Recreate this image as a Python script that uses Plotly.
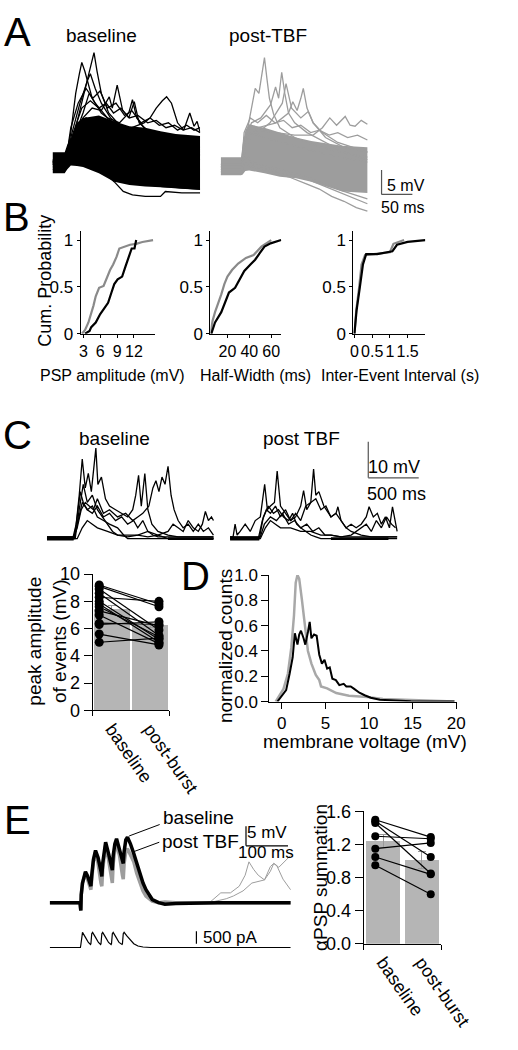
import plotly.graph_objects as go

W, H = 518, 1050
FONT = "Liberation Sans, Arial, sans-serif"
GRAY_A = "#9d9d9d"
GRAY_B = "#8a8a8a"
GRAY_D = "#a8a8a8"
BAR = "#b5b5b5"

# ---------------- DATA ----------------
# Panel A (time ms, voltage mV) -- baseline (black)
A_base_env_t = [0, 20, 24, 30, 40, 50, 76, 101, 126, 152, 177, 202, 242]
A_base_env_hi = [2.0, 2.0, 3.5, 4.7, 8.0, 9.0, 9.5, 8.3, 7.3, 7.0, 6.3, 5.7, 5.3]
A_base_env_lo = [-2.3, -2.3, -1.5, -0.7, -0.8, -1.0, -2.3, -4.0, -4.7, -5.0, -5.2, -5.3, -5.7]
A_base_traces = [
    ([0, 22, 30, 40, 50, 58, 64, 68, 73, 80, 92, 110, 140, 175, 210, 242],
     [0, 0.5, 3, 8, 13, 17, 20, 22.3, 18.5, 14, 10, 7.5, 5, 3.5, 2, 1.3]),
    ([0, 22, 30, 38, 44, 48, 53, 58, 65, 80, 100, 130, 170, 210, 242],
     [0.3, 0.6, 6, 14, 18, 20.3, 18.5, 16, 13, 10, 8, 6, 4, 2.5, 1.5]),
    ([0, 22, 35, 50, 65, 80, 93, 98, 106, 115, 125, 134, 142, 160, 190, 220, 242],
     [0, 0, 5, 9, 11, 10.5, 13.3, 11, 15.7, 10.5, 9, 12.3, 8, 6, 4, 3, 2]),
    ([0, 22, 40, 70, 100, 130, 150, 160, 170, 180, 187, 195, 205, 215, 225, 232, 237, 242],
     [-0.5, 0, 4, 6, 6.5, 7, 8, 9, 11, 12.5, 13.3, 12, 8, 6.5, 10, 7.3, 8.3, 6]),
    ([0, 22, 32, 45, 57, 62, 70, 80, 95, 115, 140, 170, 200, 242],
     [0, 0.5, 6, 12, 16.5, 18, 15, 12, 9, 7, 5, 3, 2, 0.5]),
    ([0, 22, 35, 50, 60, 70, 90, 110, 125, 131, 138, 150, 170, 200, 242],
     [-0.3, 0.2, 5, 10, 14, 12, 9, 8, 10, 12.7, 9, 7, 5.5, 4, 3]),
    ([0, 22, 30, 42, 55, 66, 78, 90, 104, 118, 130, 145, 160, 175, 190, 205, 220, 232, 242],
     [0, 0.3, 7, 12, 15, 13, 14.5, 11, 12, 9.5, 10.5, 8, 9, 7.5, 8, 6.5, 7.5, 6.5, 7]),
    ([0, 22, 34, 48, 62, 76, 88, 100, 112, 126, 140, 156, 170, 186, 200, 214, 228, 242],
     [0.2, 0.5, 6, 11, 12.5, 11, 12, 10, 11, 9, 9.5, 8, 8.5, 7, 7.5, 6.5, 7, 6]),
    ([0, 22, 28, 40, 60, 80, 101, 116, 131, 152, 177, 185, 212, 242],
     [-1, -1, 1, 0.5, -0.5, -1.5, -4, -6, -6.7, -7, -7, -6, -6.3, -6.3]),
    ([0, 22, 28, 40, 60, 80, 100, 120, 150, 180, 210, 242],
     [-1.5, -1.5, 0.5, 0, -1, -2, -3, -4, -4.5, -5, -5.3, -5.5]),
    ([0, 22, 30, 40, 55, 70, 90, 110, 140, 170, 200, 242],
     [0.5, 0.8, 4, 7, 9, 8, 7, 6, 5, 4, 3, 2.5]),
    ([0, 22, 30, 45, 60, 80, 100, 130, 160, 190, 220, 242],
     [-0.5, 0, 3, 5, 4.5, 3.5, 2.5, 1.5, 0.5, 0, -1, -1.5]),
]
# Panel A -- post-TBF (gray)
A_post_env_t = [0, 33, 36, 40, 46, 71, 96, 122, 147, 172, 197, 238]
A_post_env_hi = [1.0, 1.0, 4.0, 6.5, 7.7, 7.0, 6.0, 5.0, 4.3, 3.8, 3.3, 3.0]
A_post_env_lo = [-2.7, -2.7, -2.5, -1.8, -1.7, -2.3, -3.0, -3.3, -4.0, -5.0, -6.0, -6.3]
A_post_traces = [
    ([0, 34, 38, 45, 56, 62, 66, 71, 75, 79, 86, 96, 120, 150, 180, 210, 238],
     [-1, -1, 3, 8, 15, 14, 17, 21.3, 17, 13, 9.7, 7, 5, 3.5, 2.5, 1.5, 1]),
    ([0, 34, 38, 50, 65, 81, 89, 94, 99, 104, 110, 120, 140, 170, 200, 238],
     [-1.5, -1.5, 4, 8, 9, 11.7, 15.3, 13, 18.3, 14, 10, 8, 6, 4, 2, 0.5]),
    ([0, 34, 38, 60, 90, 110, 117, 124, 130, 134, 140, 150, 170, 200, 238],
     [-0.5, -0.5, 4, 7, 8, 10, 12.3, 10.5, 13, 15, 11, 8, 5, 3, 2]),
    ([0, 34, 38, 60, 80, 100, 106, 115, 130, 142, 150, 165, 190, 215, 238],
     [-1, -1, 3, 6, 8, 12, 16, 11, 9, 10.3, 8, 6, 4, 3, 2]),
    ([0, 34, 38, 60, 90, 120, 150, 165, 177, 188, 202, 210, 218, 228, 238],
     [-1, -1, 5, 6.5, 6, 5.5, 5.5, 7, 9, 7.5, 9.3, 7.5, 7.3, 8.5, 7.7]),
    ([0, 34, 38, 48, 60, 74, 88, 102, 116, 130, 146, 160, 176, 190, 206, 222, 238],
     [-0.5, -0.5, 6, 9, 8, 9.5, 8, 8.5, 7, 7.5, 6, 6.5, 5.5, 6, 5, 5.5, 4.5]),
    ([0, 34, 38, 50, 70, 100, 130, 160, 190, 238],
     [-2, -2, 4, 6, 5, 4, 3, 2, 1, 0]),
    ([0, 34, 38, 50, 80, 110, 140, 170, 200, 238],
     [-2.5, -2.5, 0, -1, -1.5, -2.5, -3.5, -5, -6.5, -8.5]),
    ([0, 34, 38, 50, 80, 110, 140, 160, 180, 200, 220, 238],
     [-2, -2, 1, -0.5, -2, -3, -4.5, -5.5, -7, -8, -9.3, -10]),
    ([0, 34, 38, 50, 80, 110, 140, 170, 200, 238],
     [-1.5, -1.5, 2, 0, -1, -2, -3, -4.5, -6, -7.5]),
]
A_SCALE_MV, A_SCALE_MS = 5, 50

# Panel B cumulative distributions
B_amp_base_x = [3.3, 4.1, 4.4, 5.2, 6.0, 6.9, 7.4, 8.0, 8.5, 9.1, 9.9, 10.5, 11.0, 11.6, 12.1, 12.4]
B_amp_base_p = [0.0, 0.03, 0.07, 0.12, 0.21, 0.28, 0.33, 0.44, 0.53, 0.58, 0.61, 0.72, 0.81, 0.91, 0.91, 1.0]
B_amp_post_x = [2.75, 3.3, 3.9, 4.4, 4.8, 5.2, 5.8, 6.6, 7.2, 7.75, 8.3, 8.9, 9.4, 10.2, 11.3, 12.4, 13.5, 15.4]
B_amp_post_p = [0.0, 0.04, 0.12, 0.21, 0.30, 0.40, 0.49, 0.51, 0.60, 0.68, 0.74, 0.82, 0.91, 0.93, 0.95, 0.96, 0.98, 1.0]
B_hw_base_x = [5.3, 8.7, 14.4, 18.6, 21.4, 27, 31.2, 35.4, 41, 45.3, 49.5, 53.8, 59.4, 65, 69]
B_hw_base_p = [0.0, 0.12, 0.23, 0.35, 0.44, 0.49, 0.58, 0.67, 0.74, 0.79, 0.86, 0.93, 0.965, 0.99, 1.0]
B_hw_post_x = [4.5, 6.5, 8.7, 11.5, 14.4, 17.2, 20, 24.2, 29.8, 36.9, 43.9, 51, 56.6, 60]
B_hw_post_p = [0.0, 0.14, 0.23, 0.32, 0.42, 0.53, 0.61, 0.68, 0.75, 0.81, 0.84, 0.93, 0.975, 1.0]
B_iei_base_x = [0.0, 0.06, 0.15, 0.24, 0.33, 0.64, 1.07, 1.2, 1.5, 2.0]
B_iei_base_p = [0.0, 0.25, 0.49, 0.74, 0.85, 0.85, 0.88, 0.95, 0.98, 1.0]
B_iei_post_x = [0.0, 0.05, 0.13, 0.2, 0.3, 1.0, 1.1, 1.25, 1.4]
B_iei_post_p = [0.0, 0.25, 0.49, 0.74, 0.84, 0.87, 0.96, 0.98, 1.0]

# Panel C traces (time ms, voltage mV)
C_base_rest = [([0, 265], [-0.5, -0.5], [0.6, 0.6]), ([1200, 1650], [-0.4, -0.4], [0.4, 0.4])]
C_post_rest = [([0, 290], [-0.5, -0.5], [0.6, 0.6]), ([1000, 1570], [-0.4, -0.4], [0.4, 0.4])]
C_base_traces = [
    ([0, 260, 290, 320, 350, 380, 410, 440, 470, 485, 505, 540, 580, 620, 680, 740, 800, 850, 880, 908, 935, 970, 1000, 1040, 1100, 1200, 1300, 1400, 1500, 1650],
     [0.5, 0.5, 4, 12, 22, 14, 18, 13, 21, 25, 15, 17, 11, 9, 8, 7, 6, 8, 12, 17.5, 9, 18, 8, 4, 2, 1, 0.5, 0.5, 0.5, 0.5]),
    ([0, 260, 300, 340, 380, 420, 460, 500, 560, 620, 700, 780, 850, 900, 950, 1010, 1050, 1080, 1110, 1140, 1170, 1200, 1230, 1260, 1300, 1350, 1400, 1450, 1500, 1550, 1600, 1650],
     [0, 0, 3, 8, 10, 9, 8, 11, 7, 8, 6, 7, 5, 6, 7, 9, 14, 16, 13, 17, 15, 20, 12, 8, 5, 3, 4, 2, 4, 2, 3, 1]),
    ([0, 270, 300, 330, 360, 400, 450, 500, 560, 620, 700, 760, 800, 850, 900, 1000, 1100, 1200, 1300, 1650],
     [0, 0, 6, 13, 10, 8, 9, 6, 5, 4, 3, 1, 0, 0, 0, 0, 0, 0, 0, 0]),
    ([0, 270, 310, 350, 400, 450, 500, 560, 620, 680, 740, 800, 860, 900, 950, 1000, 1050, 1100, 1200, 1650],
     [0.5, 0.5, 5, 10, 8, 7, 9, 6, 7, 5, 6, 4, 5, 3, 5, 2, 1, 0.5, 0.5, 0.5]),
    ([0, 300, 350, 400, 450, 500, 600, 700, 800, 900, 1000, 1100, 1200, 1250, 1300, 1350, 1400, 1450, 1500, 1540, 1570, 1600, 1630, 1650],
     [0, 0, 3, 5, 4, 3, 2, 1, 1, 1, 0.5, 1, 2, 4, 3, 2, 5, 3, 2, 4, 7.5, 5, 6, 5]),
    ([0, 280, 320, 360, 400, 450, 500, 550, 600, 650, 700, 800, 900, 1000, 1100, 1200, 1650],
     [0, 0, 8, 15, 10, 12, 8, 6, 4, 2, 1, 0.5, 1, 2, 1, 0, 0]),
]
C_post_traces = [
    ([0, 30, 50, 70, 100, 150, 200, 250, 300, 343, 370, 400, 440, 467, 500, 550, 600, 650, 700, 729, 760, 800, 828, 850, 880, 930, 1000, 1050, 1069, 1100, 1150, 1200, 1300, 1400, 1500, 1656],
     [0.5, 0.5, 4, 1, 2, 4, 2, 5, 6, 15, 8, 9, 10, 18.7, 9, 7, 5, 6, 9, 13.3, 8, 10, 19.2, 12, 13, 9, 6, 7, 8.8, 5, 3, 2, 1, 0.5, 0.5, 0.5]),
    ([0, 280, 320, 360, 400, 450, 500, 550, 600, 650, 700, 750, 800, 850, 900, 950, 1000, 1050, 1100, 1150, 1200, 1250, 1300, 1350, 1378, 1420, 1460, 1500, 1540, 1580, 1610, 1656],
     [0, 0, 5, 8, 7, 9, 6, 8, 5, 7, 5, 9, 10, 11, 8, 9, 6, 7, 5, 3, 4, 3, 4, 6, 8.8, 6, 7, 4, 6, 3, 8.8, 2]),
    ([0, 290, 330, 380, 430, 480, 530, 580, 620, 660, 700, 750, 800, 850, 900, 1000, 1656],
     [0, 0, 6, 9, 7, 8, 6, 5, 7, 4, 3, 2, 1, 0.5, 0, 0, 0]),
    ([0, 300, 340, 400, 460, 520, 580, 640, 700, 760, 820, 880, 940, 1000, 1100, 1200, 1300, 1656],
     [0.5, 0.5, 4, 6, 5, 7, 4, 5, 3, 4, 2, 3, 1, 1, 0.5, 0.5, 0.5, 0.5]),
    ([0, 300, 350, 400, 450, 500, 600, 700, 800, 900, 1000, 1100, 1200, 1300, 1350, 1400, 1450, 1500, 1550, 1600, 1640],
     [0, 0, 3, 5, 4, 3, 3, 2, 2, 1, 1, 0.5, 1, 3, 4, 2, 5, 3, 6, 4, 3]),
]
C_SCALE_MV, C_SCALE_MS = 10, 500

# Panel C bar chart
C_categories = ["baseline", "post-burst"]
C_bar_means = [7.4, 6.25]
C_bar_err = [0.3, 0.2]
C_pair_base = [9.2, 9.1, 8.9, 8.6, 8.3, 8.0, 7.8, 7.6, 7.3, 7.0, 6.4, 6.3, 5.6, 5.0]
C_pair_post = [7.8, 7.6, 5.9, 5.5, 8.0, 5.2, 5.0, 5.4, 6.2, 4.9, 6.3, 6.5, 4.8, 5.3]

# Panel D histogram
D_post_x = [-0.7, 0.2, 0.7, 1.1, 1.4, 1.6, 1.8, 2.0, 2.3, 2.7, 3.0, 3.4, 3.9, 4.3, 4.5, 5.2, 6.25, 7.7, 9.8, 11.6, 13.4, 15.9, 19.8]
D_post_y = [0.0, 0.10, 0.22, 0.43, 0.68, 0.94, 1.0, 0.97, 0.81, 0.56, 0.40, 0.30, 0.21, 0.17, 0.12, 0.105, 0.067, 0.046, 0.036, 0.02, 0.015, 0.01, 0.0]
D_base_x = [-0.5, 0.2, 0.5, 0.9, 1.25, 1.5, 1.8, 2.0, 2.2, 2.5, 2.7, 3.0, 3.2, 3.4, 3.7, 4.0, 4.3, 4.6, 4.9, 5.2, 5.5, 5.8, 6.2, 6.6, 7.1, 7.4, 7.9, 8.3, 8.9, 9.5, 10.2, 11.25, 12.7, 14.8, 19.8]
D_base_y = [0.0, 0.07, 0.09, 0.22, 0.35, 0.54, 0.45, 0.53, 0.56, 0.50, 0.45, 0.55, 0.63, 0.50, 0.53, 0.52, 0.37, 0.30, 0.33, 0.26, 0.27, 0.18, 0.17, 0.13, 0.14, 0.12, 0.12, 0.10, 0.07, 0.05, 0.03, 0.015, 0.01, 0.003, 0.0]

# Panel E traces (time ms, voltage mV / current pA)
E_t = [0, 72, 74, 75, 78, 82, 85, 90, 96, 98, 100, 104, 109, 115, 122, 124, 126, 130, 133, 140,
       147, 149, 151, 155, 159, 166, 173, 175, 177, 181, 185, 192, 200, 207, 215, 222, 229, 236, 244, 259,
       274, 300, 350, 400, 450, 500, 550, 573]
E_base_v = [0, 0, -2, 2, 5, 7, 7.9, 6.8, 5, 4.2, 7, 11, 13.3, 11.5, 8, 6.7, 10, 14, 15.4, 12.5,
            9, 8.3, 12, 15, 16.3, 13.5, 10.5, 10, 13, 16, 16.7, 15, 12.5, 10, 7.5, 5, 3.3, 2, 0.8, 0,
            -0.4, -0.2, 0, 0, 0, 0, 0, 0]
E_post_v = [0, 0, -2, 2, 5, 7, 7.5, 6, 3.8, 3.3, 6, 10.5, 12.9, 10, 5, 4.2, 8.5, 13, 14.6, 11,
            6, 5, 10, 13.5, 15, 12, 7, 6, 10, 13, 13.75, 12, 10.4, 7.5, 5, 3, 1.7, 1, 0.4, 0,
            0.2, 0, 0, 0, 0, 0, 0, 0]
E_spont1_t = [380, 407, 430, 451, 465, 474, 485, 496, 511, 525, 533, 540, 555, 573]
E_spont1_v = [0, 2.5, 2.5, 4.2, 7, 10.4, 8.5, 7, 5.8, 8, 10, 9.5, 6, 3.3]
E_spont2_t = [380, 420, 437, 460, 481, 500, 511, 525, 533, 545, 555, 565, 573]
E_spont2_v = [0, 1, 1.7, 3, 5, 5.5, 5.8, 9.2, 10, 9, 10, 11, 12]
E_I_t = [0, 73, 74, 76, 78, 85, 92, 97, 98, 100, 102, 109, 116, 121, 122, 124, 126, 133, 140, 146,
         147, 149, 151, 158, 165, 172, 173, 175, 177, 184, 192, 200, 210, 222, 240, 300, 400, 500, 573]
E_I_pA = [0, 0, 100, 550, 600, 400, 200, 120, 150, 550, 600, 400, 200, 120, 150, 550, 600, 400, 200, 120,
          150, 550, 600, 400, 200, 120, 150, 550, 600, 450, 300, 150, 60, 20, 0, 0, 0, 0, 0]
E_SCALE_MV, E_SCALE_MS, E_SCALE_PA = 5, 100, 500

# Panel E bar chart
E_categories = ["baseline", "post-burst"]
E_bar_means = [1.24, 1.01]
E_bar_err = [0.08, 0.1]
E_pair_base = [1.50, 1.48, 1.46, 1.30, 1.15, 1.05, 0.95]
E_pair_post = [1.29, 1.05, 0.85, 1.27, 1.22, 0.84, 0.60]

# ---------------- LAYOUT HELPERS ----------------
def X(px):
    return px / W


def Y(py):
    return 1 - py / H


def xd(a, b):
    return [X(a), X(b)]


def yd(top, bottom):
    return [Y(bottom), Y(top)]


HID = dict(visible=False, showgrid=False, zeroline=False, fixedrange=True)


def vis(size=18, ticklen=6, **kw):
    d = dict(showline=True, linecolor="black", linewidth=1, ticks="outside",
             ticklen=ticklen, tickwidth=1, tickcolor="black", showgrid=False,
             zeroline=False, fixedrange=True, tickangle=0,
             tickfont=dict(size=size, color="black", family=FONT))
    d.update(kw)
    return d


fig = go.Figure()


def add(trace, n):
    trace.update(xaxis="x" if n == 1 else f"x{n}", yaxis="y" if n == 1 else f"y{n}",
                 showlegend=False, hoverinfo="skip")
    fig.add_trace(trace)


def band(t, lo, hi, color, n):
    add(go.Scatter(x=list(t) + list(t)[::-1], y=list(hi) + list(lo)[::-1], fill="toself",
                   fillcolor=color, mode="lines", line=dict(width=0)), n)


# ---- Panel A ----
band(A_base_env_t, A_base_env_lo, A_base_env_hi, "black", 1)
for t, v in A_base_traces:
    add(go.Scatter(x=t, y=v, mode="lines", line=dict(color="black", width=1.3)), 1)
band(A_post_env_t, A_post_env_lo, A_post_env_hi, GRAY_A, 2)
for t, v in A_post_traces:
    add(go.Scatter(x=t, y=v, mode="lines", line=dict(color=GRAY_A, width=1.3)), 2)

# ---- Panel B ----
for n, (bx, bp, px_, pp) in zip([3, 4, 5], [
        (B_amp_base_x, B_amp_base_p, B_amp_post_x, B_amp_post_p),
        (B_hw_base_x, B_hw_base_p, B_hw_post_x, B_hw_post_p),
        (B_iei_base_x, B_iei_base_p, B_iei_post_x, B_iei_post_p)]):
    add(go.Scatter(x=px_, y=pp, mode="lines", line=dict(color=GRAY_B, width=2.2)), n)
    add(go.Scatter(x=bx, y=bp, mode="lines", line=dict(color="black", width=2.2)), n)

# ---- Panel C traces ----
for t, lo, hi in C_base_rest:
    band(t, lo, hi, "black", 6)
for t, lo, hi in C_post_rest:
    band(t, lo, hi, "black", 7)
for t, v in C_base_traces:
    add(go.Scatter(x=t, y=v, mode="lines", line=dict(color="black", width=1.3)), 6)
for t, v in C_post_traces:
    add(go.Scatter(x=t, y=v, mode="lines", line=dict(color="black", width=1.3)), 7)

# ---- Panel C bar ----
add(go.Bar(x=[0, 1], y=C_bar_means, width=0.95, marker=dict(color=BAR, line=dict(width=0)),
           error_y=dict(type="data", array=C_bar_err, color="#9a9a9a", thickness=1, width=4)), 8)
cx, cy = [], []
for b, p in zip(C_pair_base, C_pair_post):
    cx += [-0.33, 1.23, None]
    cy += [b, p, None]
add(go.Scatter(x=cx, y=cy, mode="lines+markers", line=dict(color="black", width=1.2),
               marker=dict(color="black", size=9)), 8)

# ---- Panel D ----
add(go.Scatter(x=D_post_x, y=D_post_y, mode="lines", line=dict(color=GRAY_D, width=2.5)), 9)
add(go.Scatter(x=D_base_x, y=D_base_y, mode="lines", line=dict(color="black", width=2)), 9)

# ---- Panel E traces ----
add(go.Scatter(x=E_spont1_t, y=E_spont1_v, mode="lines", line=dict(color=GRAY_A, width=1)), 10)
add(go.Scatter(x=E_spont2_t, y=E_spont2_v, mode="lines", line=dict(color=GRAY_A, width=1)), 10)
add(go.Scatter(x=E_t, y=E_post_v, mode="lines", line=dict(color=GRAY_A, width=3.5)), 10)
add(go.Scatter(x=E_t, y=E_base_v, mode="lines", line=dict(color="black", width=3.5)), 10)
add(go.Scatter(x=E_I_t, y=E_I_pA, mode="lines", line=dict(color="black", width=1.2)), 11)

# ---- Panel E bar ----
add(go.Bar(x=[0, 1], y=E_bar_means, width=0.88, marker=dict(color=BAR, line=dict(width=0)),
           error_y=dict(type="data", array=E_bar_err, color="#9a9a9a", thickness=1, width=4)), 12)
ex, ey = [], []
for b, p in zip(E_pair_base, E_pair_post):
    ex += [-0.2, 1.23, None]
    ey += [b, p, None]
add(go.Scatter(x=ex, y=ey, mode="lines+markers", line=dict(color="black", width=1.2),
               marker=dict(color="black", size=8)), 12)

# ---------------- AXES ----------------
lay = {}
def setax(n, xa, ya):
    xk = "xaxis" if n == 1 else f"xaxis{n}"
    yk = "yaxis" if n == 1 else f"yaxis{n}"
    xa = dict(xa); ya = dict(ya)
    xa["anchor"] = "y" if n == 1 else f"y{n}"
    ya["anchor"] = "x" if n == 1 else f"x{n}"
    lay[xk] = xa
    lay[yk] = ya

setax(1, dict(HID, domain=xd(53, 211), range=[0, 242]), dict(HID, domain=yd(40, 210), range=[-11, 23]))
setax(2, dict(HID, domain=xd(233, 450), range=[0, 329]), dict(HID, domain=yd(40, 210), range=[-11, 23]))

byax = dict(domain=yd(225, 330), range=[0, 1.1], tickvals=[0, 0.5, 1], ticktext=["0", "0.5", "1"])
setax(3, vis(16, 3, domain=xd(83, 163), range=[2.5, 15.8], tickvals=[3, 6, 9, 12]), vis(17, 3, **byax))
setax(4, vis(16, 3, domain=xd(222, 298), range=[4.5, 69.3], tickvals=[20, 40, 60]), vis(17, 3, **byax))
setax(5, vis(16, 3, domain=xd(375, 452), range=[-0.03, 2.0], tickvals=[0, 0.5, 1, 1.5],
             ticktext=["0", "0.5", "1", "1.5"]), vis(17, 3, **byax))

setax(6, dict(HID, domain=xd(47, 226), range=[0, 1657]), dict(HID, domain=yd(440, 550), range=[-3, 26.8]))
setax(7, dict(HID, domain=xd(243, 450), range=[0, 1917]), dict(HID, domain=yd(440, 550), range=[-3, 26.8]))

setax(8, vis(18, 6, domain=xd(96, 178), range=[-0.5, 1.5], tickvals=[0, 1], ticktext=C_categories,
             ticks="", tickangle=55, minor=dict(tickvals=[-0.5, 1.5], ticks="outside", ticklen=5, tickcolor="black")),
      vis(18, 8, domain=yd(575, 714), range=[0, 10], tickvals=[0, 2, 4, 6, 8, 10]))

setax(9, vis(17, 6, domain=xd(285, 486), range=[-1.43, 20.1], tickvals=[0, 5, 10, 15, 20]),
      vis(17, 7, domain=yd(576, 705), range=[0, 1.0], tickvals=[0, 0.2, 0.4, 0.6, 0.8, 1.0], tickformat=".1f"))

setax(10, dict(HID, domain=xd(50, 310), range=[0, 578]), dict(HID, domain=yd(815, 925), range=[-3.75, 23.75]))
setax(11, dict(HID, domain=xd(50, 310), range=[0, 578]), dict(HID, domain=yd(930, 965), range=[-363, 1002]))

setax(12, vis(18, 6, domain=xd(386, 469), range=[-0.5, 1.5], tickvals=[0, 1], ticktext=E_categories,
              ticks="", tickangle=55, minor=dict(tickvals=[-0.5, 1.5], ticks="outside", ticklen=5, tickcolor="black")),
      vis(18, 8, domain=yd(817, 952), range=[0, 1.6], tickvals=[0, 0.4, 0.8, 1.2, 1.6], tickformat=".1f"))

# ---------------- SCALE BARS (shapes in data units) ----------------
shapes = []
def seg(n, x0, y0, x1, y1, color="black", w=1.2):
    shapes.append(dict(type="line", xref=f"x{n}", yref=f"y{n}", x0=x0, y0=y0, x1=x1, y1=y1,
                       line=dict(color=color, width=w)))

a0t, a0v = 261, -6.6
seg(2, a0t, a0v, a0t, a0v + A_SCALE_MV, "#555")
seg(2, a0t, a0v, a0t + A_SCALE_MS, a0v, "#555")
c0t, c0v = 1370, 16.8
seg(7, c0t, c0v, c0t, c0v + C_SCALE_MV, "#555")
seg(7, c0t, c0v, c0t + C_SCALE_MS, c0v, "#555")
e0t, e0v = 467, 14.5
seg(10, e0t, e0v, e0t, e0v + E_SCALE_MV)
seg(10, e0t, e0v, e0t + E_SCALE_MS, e0v)
seg(11, 349, 150, 349, 150 + E_SCALE_PA)

# ---------------- TEXT ----------------
ann = []
def txt(text, px, py, size=18, xanchor="center", angle=0, **kw):
    ann.append(dict(text=text, x=X(px), y=Y(py), xref="paper", yref="paper", showarrow=False,
                    xanchor=xanchor, yanchor="middle", textangle=angle,
                    font=dict(size=size, color="black", family=FONT), **kw))

for L, px, py in [("A", 15, 22), ("B", 14, 211), ("C", 15, 433), ("D", 206, 577), ("E", 15, 826)]:
    txt(L, px, py, size=40)

txt("baseline", 105, 26, 19)
txt("post-TBF", 284, 26, 19)
txt("5 mV", 409, 179, 16, xanchor="left")
txt("50 ms", 402, 201, 16, xanchor="left")

txt("Cum. Probability", 45, 276, 18, angle=-90)
txt("PSP amplitude (mV)", 117, 373, 16)
txt("Half-Width (ms)", 270, 373, 16)
txt("Inter-Event Interval (s)", 425, 373, 16)

txt("baseline", 119, 437, 19)
txt("post TBF", 320, 437, 19)
txt("10 mV", 419, 466, 18)
txt("500 ms", 421, 493, 18)

txt("peak amplitude<br>of events (mV)", 47, 643, 19, angle=-90)
txt("normalized counts", 238, 648, 19, angle=-90)
txt("membrane voltage (mV)", 387, 746, 19)

txt("baseline", 209, 823, 19)
txt("post TBF", 211, 848, 19)
txt("5 mV", 283, 838, 17)
txt("100 ms", 282, 859, 17)
txt("500 pA", 212, 946, 17, xanchor="left")
txt("\u03b1PSP summation", 339, 884, 19, angle=-90)

# leader lines for E labels (arrows pointing at trace data)
ann.append(dict(x=189, y=17, xref="x10", yref="y10", ax=32, ay=-12, text="", showarrow=True,
                arrowhead=0, arrowwidth=1, arrowcolor="black"))
ann.append(dict(x=200, y=13, xref="x10", yref="y10", ax=27, ay=-10, text="", showarrow=True,
                arrowhead=0, arrowwidth=1, arrowcolor="black"))

fig.update_layout(
    width=W, height=H, margin=dict(l=0, r=0, t=0, b=0),
    paper_bgcolor="white", plot_bgcolor="rgba(0,0,0,0)",
    font=dict(family=FONT, color="black"),
    showlegend=False, bargap=0,
    shapes=shapes, annotations=ann, **lay,
)
fig.write_html("out.html", config={"displayModeBar": False, "staticPlot": True},
               post_script="document.body.style.margin='0';document.body.style.overflow='hidden';")
